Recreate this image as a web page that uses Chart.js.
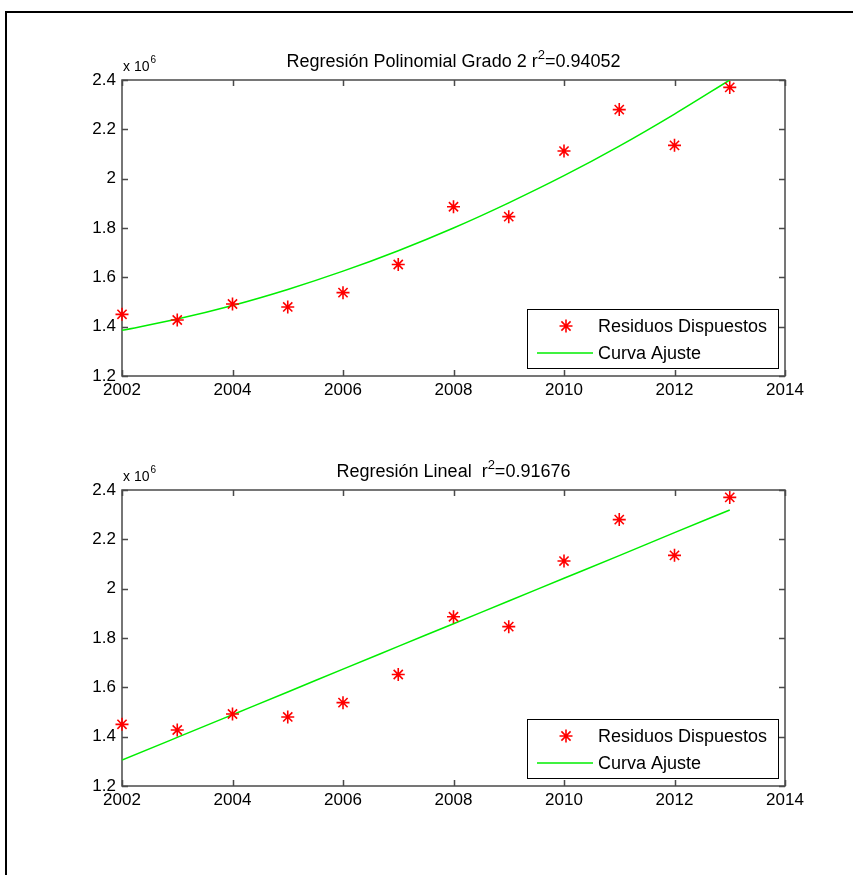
<!DOCTYPE html>
<html>
<head>
<meta charset="utf-8">
<script src="https://cdn.jsdelivr.net/npm/chart.js@4.4.1/dist/chart.umd.min.js"></script>
<style>
  html, body { margin: 0; padding: 0; background: #fff; }
  body { width: 853px; height: 875px; position: relative; overflow: hidden; }
  #marco { position: absolute; left: 5px; top: 11px; width: 900px; height: 900px;
           border-top: 2px solid #000; border-left: 2px solid #000; box-sizing: border-box; }
  .grafico { position: absolute; left: 0; width: 853px; height: 420px; }
  #g1 { top: 0; }
  #g2 { top: 410px; }
</style>
</head>
<body>
<div id="marco"></div>
<div class="grafico" id="g1"><canvas id="c1" width="853" height="420"></canvas></div>
<div class="grafico" id="g2"><canvas id="c2" width="853" height="420"></canvas></div>
<script>
// Años de la serie
const anios = [2002, 2003, 2004, 2005, 2006, 2007, 2008, 2009, 2010, 2011, 2012, 2013];
// Residuos dispuestos (x 10^6)
const residuos = [1.450, 1.427, 1.492, 1.480, 1.538, 1.652, 1.886, 1.846, 2.112, 2.280, 2.135, 2.370];
// Curva de ajuste polinomial de grado 2 (x 10^6)
const ajustePolinomial = [1.385, 1.431, 1.486, 1.551, 1.625, 1.708, 1.800, 1.902, 2.012, 2.132, 2.262, 2.400];
// Recta de ajuste lineal (x 10^6)
const ajusteLineal = [1.305, 1.397, 1.489, 1.581, 1.674, 1.766, 1.858, 1.950, 2.042, 2.134, 2.227, 2.319];
// Marcas de los ejes
const marcasX = [2002, 2004, 2006, 2008, 2010, 2012, 2014];
const marcasY = [1.2, 1.4, 1.6, 1.8, 2.0, 2.2, 2.4];
// Títulos: texto, exponente del r y valor
const titulos = [
  { antes: 'Regresión Polinomial Grado 2 r', sup: '2', despues: '=0.94052' },
  { antes: 'Regresión Lineal  r', sup: '2', despues: '=0.91676' }
];

// Fuente estrecha si está instalada, si no Liberation Sans a menor tamaño
const sonda = document.createElement('canvas').getContext('2d');
function ancho(f) { sonda.font = f; return sonda.measureText('Residuos Dispuestos 2002').width; }
const hayEstrecha = ancho("20px 'Liberation Sans Narrow', monospace") !== ancho('20px monospace');
const familia = hayEstrecha ? "'Liberation Sans Narrow', 'Liberation Sans', Arial, sans-serif"
                            : "'Liberation Sans', Arial, sans-serif";
const tam = hayEstrecha ? { marca: 20, leyenda: 21, titulo: 21, exp: 16 }
                        : { marca: 17, leyenda: 18, titulo: 18, exp: 14 };
const colorEje = '#4a4a4a';

function toXY(xs, ys) { return xs.map((x, i) => ({ x: x, y: ys[i] })); }

// Caja de ejes con marcas hacia dentro en los cuatro lados
const cajaEjes = {
  id: 'cajaEjes',
  beforeDatasetsDraw(chart) {
    const { ctx, chartArea: a, scales } = chart;
    const L = 6;
    ctx.save();
    ctx.strokeStyle = colorEje;
    ctx.lineWidth = 1.5;
    ctx.beginPath();
    scales.x.ticks.forEach(t => {
      const px = Math.round(scales.x.getPixelForValue(t.value)) + 0.5;
      ctx.moveTo(px, a.bottom); ctx.lineTo(px, a.bottom - L);
      ctx.moveTo(px, a.top); ctx.lineTo(px, a.top + L);
    });
    scales.y.ticks.forEach(t => {
      const py = Math.round(scales.y.getPixelForValue(t.value)) + 0.5;
      ctx.moveTo(a.left, py); ctx.lineTo(a.left + L, py);
      ctx.moveTo(a.right, py); ctx.lineTo(a.right - L, py);
    });
    ctx.stroke();
    ctx.strokeRect(a.left, a.top, a.right - a.left, a.bottom - a.top);
    ctx.restore();
  }
};

// Título con superíndice y factor de escala "x 10^6"
const rotulos = {
  id: 'rotulos',
  afterDraw(chart, args, opts) {
    const { ctx, chartArea: a } = chart;
    ctx.save();
    ctx.fillStyle = '#000';
    ctx.textBaseline = 'alphabetic';
    const t = opts.titulo;
    const fN = tam.titulo + 'px ' + familia;
    const fS = Math.round(tam.titulo * 0.7) + 'px ' + familia;
    ctx.font = fN; const w1 = ctx.measureText(t.antes).width; const w3 = ctx.measureText(t.despues).width;
    ctx.font = fS; const w2 = ctx.measureText(t.sup).width;
    let x = (a.left + a.right) / 2 - (w1 + w2 + w3) / 2;
    const yb = a.top - 13;
    ctx.textAlign = 'left';
    ctx.font = fN; ctx.fillText(t.antes, x, yb); x += w1;
    ctx.font = fS; ctx.fillText(t.sup, x, yb - 8); x += w2;
    ctx.font = fN; ctx.fillText(t.despues, x, yb);
    // factor de escala del eje y
    ctx.font = tam.exp + 'px ' + familia;
    const base = 'x 10';
    ctx.fillText(base, a.left + 1, a.top - 9);
    const wb = ctx.measureText(base).width;
    ctx.font = Math.round(tam.exp * 0.72) + 'px ' + familia;
    ctx.fillText(opts.exponente, a.left + 1 + wb + 1, a.top - 17);
    ctx.restore();
  }
};

// Leyenda en la esquina inferior derecha del área de trazado
const leyendaInterior = {
  id: 'leyendaInterior',
  afterDraw(chart) {
    const { ctx, chartArea: a } = chart;
    const w = 251, h = 59;
    const x0 = a.right - 7 - w, y0 = a.bottom - 8 - h;
    ctx.save();
    ctx.fillStyle = '#fff';
    ctx.fillRect(x0, y0, w, h);
    ctx.strokeStyle = '#000';
    ctx.lineWidth = 1;
    ctx.strokeRect(x0 + 0.5, y0 + 0.5, w, h);
    ctx.font = tam.leyenda + 'px ' + familia;
    ctx.textBaseline = 'middle';
    ctx.textAlign = 'left';
    chart.data.datasets.forEach((ds, i) => {
      const cy = y0 + 17 + i * 27;
      ctx.strokeStyle = ds.borderColor;
      ctx.fillStyle = ds.backgroundColor;
      ctx.lineWidth = ds.borderWidth;
      if (ds.showLine === false) {
        Chart.helpers.drawPoint(ctx, {
          pointStyle: ds.pointStyle, radius: ds.pointRadius,
          borderWidth: ds.borderWidth, rotation: 0
        }, x0 + 39, cy);
      } else {
        ctx.beginPath();
        ctx.moveTo(x0 + 10, cy); ctx.lineTo(x0 + 66, cy);
        ctx.stroke();
      }
      ctx.fillStyle = '#000';
      ctx.fillText(ds.label, x0 + 71, cy + 1);
    });
    ctx.restore();
  }
};

function crear(idCanvas, ajuste, titulo) {
  return new Chart(document.getElementById(idCanvas), {
    type: 'scatter',
    data: {
      datasets: [
        {
          label: 'Residuos Dispuestos',
          data: toXY(anios, residuos),
          showLine: false,
          clip: 10,
          pointStyle: 'star',
          pointRadius: 6.5,
          pointHoverRadius: 6.5,
          borderColor: '#ff0000',
          backgroundColor: '#ff0000',
          borderWidth: 1.6
        },
        {
          label: 'Curva Ajuste',
          data: toXY(anios, ajuste),
          showLine: true,
          pointRadius: 0,
          borderColor: '#00ee00',
          backgroundColor: '#00ee00',
          borderWidth: 1.5,
          tension: 0.35,
          cubicInterpolationMode: 'monotone'
        }
      ]
    },
    options: {
      responsive: false,
      animation: false,
      devicePixelRatio: 1,
      layout: { padding: { left: 62, top: 80, right: 68, bottom: 4 } },
      plugins: {
        legend: { display: false },
        tooltip: { enabled: false },
        rotulos: { titulo: titulo, exponente: '6' }
      },
      scales: {
        x: {
          type: 'linear',
          position: 'bottom',
          min: marcasX[0],
          max: marcasX[marcasX.length - 1],
          afterBuildTicks: s => { s.ticks = marcasX.map(v => ({ value: v })); },
          afterFit: s => { s.height = 40; },
          grid: { display: false, drawTicks: false },
          border: { display: false },
          ticks: {
            color: '#000',
            padding: 4,
            maxRotation: 0,
            font: { family: familia, size: tam.marca },
            callback: v => String(v)
          }
        },
        y: {
          type: 'linear',
          min: marcasY[0],
          max: marcasY[marcasY.length - 1],
          afterBuildTicks: s => { s.ticks = marcasY.map(v => ({ value: v })); },
          afterFit: s => { s.width = 60; },
          grid: { display: false, drawTicks: false },
          border: { display: false },
          ticks: {
            color: '#000',
            padding: 6,
            font: { family: familia, size: tam.marca },
            callback: v => String(Number(v.toFixed(1)))
          }
        }
      }
    },
    plugins: [cajaEjes, rotulos, leyendaInterior]
  });
}

crear('c1', ajustePolinomial, titulos[0]);
crear('c2', ajusteLineal, titulos[1]);
</script>
</body>
</html>
